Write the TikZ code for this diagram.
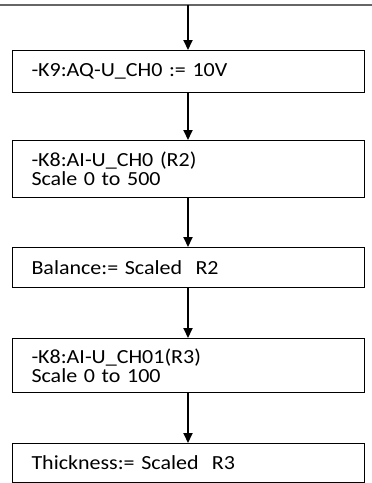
\documentclass[tikz,border=0pt]{standalone}
\usepackage{fontspec}
\setmainfont[FakeStretch=1.1]{Carlito}
\usetikzlibrary{arrows.meta}
\begin{document}
\begin{tikzpicture}[x=1pt,y=-1pt,
  stepbox/.style={draw=black,line width=1pt,anchor=north west,minimum width=352pt,
    text width=314pt,inner xsep=19pt,inner ysep=0pt,align=left,
    font=\fontsize{20pt}{19pt}\selectfont},
  flow/.style={line width=2pt,-{Triangle[length=10pt,width=9pt]}}]
\useasboundingbox (0,0) rectangle (372,483);
\draw[gray!80!black,line width=2pt] (0,4.5) coordinate (topL) -- (372,4.5) coordinate (topR);
\coordinate (start) at (188,5);
\node[stepbox,minimum height=42pt] (b1) at (12,50) {-K9:AQ-U\_CH0 := 10V};
\node[stepbox,minimum height=57pt] (b2) at (12,140) {-K8:AI-U\_CH0 (R2)\\Scale 0 to 500};
\node[stepbox,minimum height=40pt] (b3) at (12,247) {Balance:= Scaled\ \ R2};
\node[stepbox,minimum height=54pt] (b4) at (12,338) {-K8:AI-U\_CH01(R3)\\Scale 0 to 100};
\node[stepbox,minimum height=39pt] (b5) at (12,443) {Thickness:= Scaled\ \ R3};
\draw[flow] (start) -- (start |- b1.north);
\draw[flow] (start |- b1.south) -- (start |- b2.north);
\draw[flow] (start |- b2.south) -- (start |- b3.north);
\draw[flow] (start |- b3.south) -- (start |- b4.north);
\draw[flow] (start |- b4.south) -- (start |- b5.north);
\end{tikzpicture}
\end{document}
